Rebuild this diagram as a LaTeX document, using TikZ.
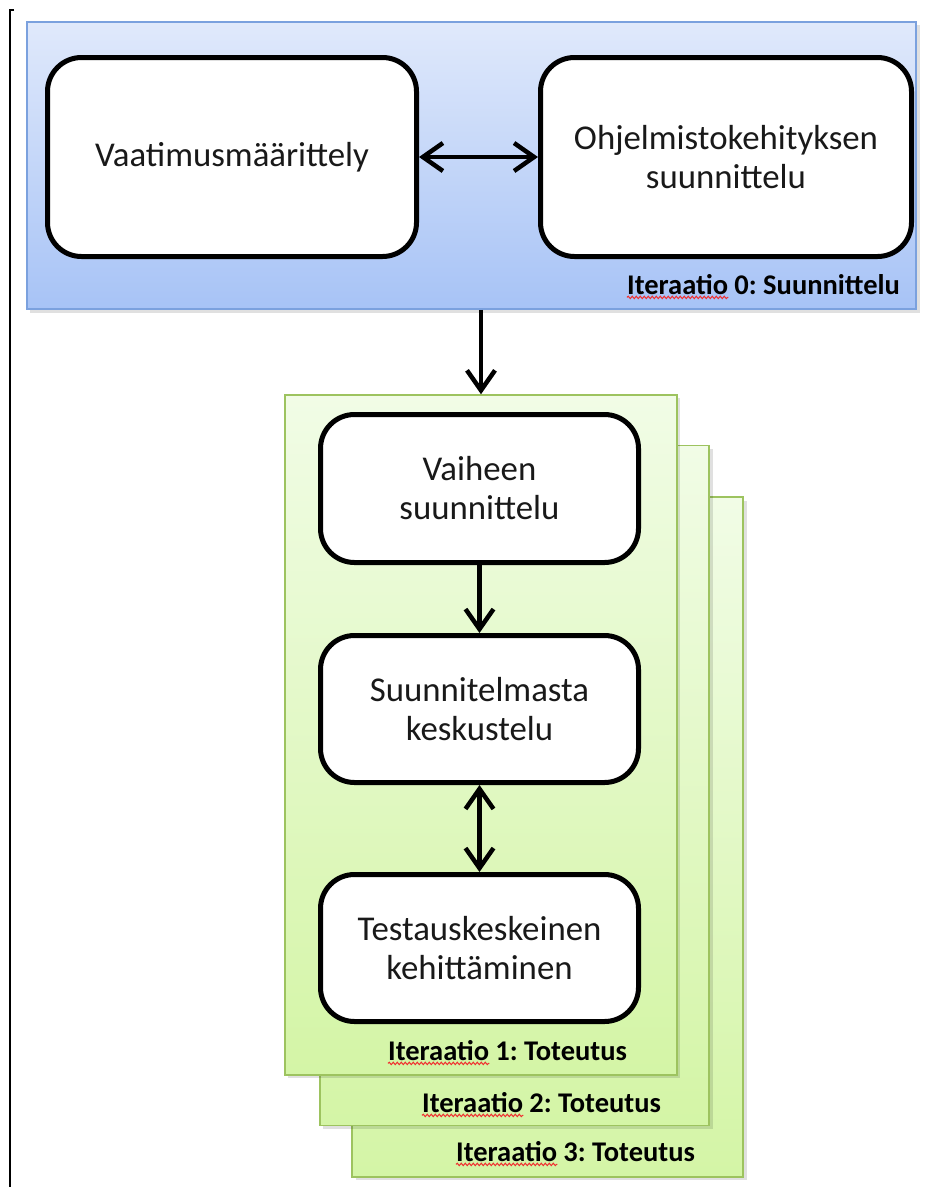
\documentclass[tikz,border=0pt]{standalone}
\usepackage{fontspec}
\setmainfont{Carlito}
\frenchspacing
\usetikzlibrary{arrows.meta,decorations.pathmorphing}
\definecolor{bluetop}{HTML}{E0E9FB}
\definecolor{bluebot}{HTML}{A7C3F6}
\definecolor{blueedge}{HTML}{7BA1DE}
\definecolor{greentop}{HTML}{F1FCE6}
\definecolor{greenbot}{HTML}{D4F5A6}
\definecolor{greenedge}{HTML}{9DC35F}
\definecolor{squig}{HTML}{F03030}
\tikzset{
  stepbox/.style={draw=black, line width=5pt, rounded corners=34pt, fill=white,
    align=center, font=\fontsize{34.8}{39}\selectfont, text=black!90},
  bluepanel/.style={draw=blueedge, line width=1.5pt, top color=bluetop, bottom color=bluebot},
  greenpanel/.style={draw=greenedge, line width=1.5pt, top color=greentop, bottom color=greenbot},
  shadowbox/.style={fill=black, opacity=0.12, draw=none},
  lbl/.style={font=\bfseries\fontsize{28.5}{32}\selectfont, inner sep=0pt, anchor=base west, text=black},
  arr/.style={line width=4.5pt, -{Straight Barb[length=20pt,width=28pt,line width=4.5pt]}},
  darr/.style={line width=4.5pt, {Straight Barb[length=20pt,width=28pt,line width=4.5pt]}-{Straight Barb[length=20pt,width=28pt,line width=4.5pt]}},
  wavy/.style={draw=squig, line width=1pt, decorate, decoration={snake, amplitude=1.2pt, segment length=4pt}}
}
\begin{document}
\begin{tikzpicture}[x=1pt,y=-1pt]
\useasboundingbox[fill=white] (0,0) rectangle (936,1187);
% left margin line
\draw[line width=2.5pt] (14,10) -| (10,1187);

% blue panel
\fill[shadowbox] (30,25) rectangle (920,313);
\node[bluepanel, minimum width=889pt, minimum height=287pt, inner sep=0pt] (blue) at (471.5,165.5) {};
\node[stepbox, minimum width=369pt, minimum height=199pt] (va) at (232,157) {Vaatimusmäärittely};
\node[stepbox, minimum width=371pt, minimum height=199pt] (oh) at (726,157) {Ohjelmistokehityksen\\suunnittelu};
\draw[darr] (va.east) -- (oh.west);
\node[lbl] (l0a) at (627,294) {Iteraatio};
\node[lbl, anchor=base west] (l0b) at ([xshift=6pt]l0a.base east) {0: Suunnittelu};
\draw[wavy] ([yshift=-3pt]l0a.south west) -- ([yshift=-3pt]l0a.south east);

% green panels
\fill[shadowbox] (356,501) rectangle (747,1180);
\node[greenpanel, minimum width=391pt, minimum height=680pt, inner sep=0pt] (g3) at (547.5,837) {};
\fill[shadowbox] (323,449) rectangle (713,1129);
\node[greenpanel, minimum width=389pt, minimum height=680pt, inner sep=0pt] (g2) at (514.5,785.5) {};
\fill[shadowbox] (288,398) rectangle (680,1078);
\node[greenpanel, minimum width=392pt, minimum height=680pt, inner sep=0pt] (g1) at (481,735) {};

\node[lbl] (l3a) at (456,1161) {Iteraatio};
\node[lbl, anchor=base west] (l3b) at ([xshift=6pt]l3a.base east) {3: Toteutus};
\draw[wavy] ([yshift=-3pt]l3a.south west) -- ([yshift=-3pt]l3a.south east);
\node[lbl] (l2a) at (422,1112) {Iteraatio};
\node[lbl, anchor=base west] (l2b) at ([xshift=6pt]l2a.base east) {2: Toteutus};
\draw[wavy] ([yshift=-3pt]l2a.south west) -- ([yshift=-3pt]l2a.south east);
\node[lbl] (l1a) at (388,1060) {Iteraatio};
\node[lbl, anchor=base west] (l1b) at ([xshift=6pt]l1a.base east) {1: Toteutus};
\draw[wavy] ([yshift=-3pt]l1a.south west) -- ([yshift=-3pt]l1a.south east);

% inner boxes
\node[stepbox, minimum width=318pt, minimum height=148pt] (b1) at (479.5,488.5) {Vaiheen\\suunnittelu};
\node[stepbox, minimum width=318pt, minimum height=147pt] (b2) at (479.5,709) {Suunnitelmasta\\keskustelu};
\node[stepbox, minimum width=318pt, minimum height=147pt] (b3) at (479.5,948) {Testauskeskeinen\\kehittäminen};

% connectors
\draw[arr] (blue.south -| g1.north) -- (g1.north);
\draw[arr] (b1.south) -- (b2.north);
\draw[darr] (b2.south) -- (b3.north);
\end{tikzpicture}
\end{document}
